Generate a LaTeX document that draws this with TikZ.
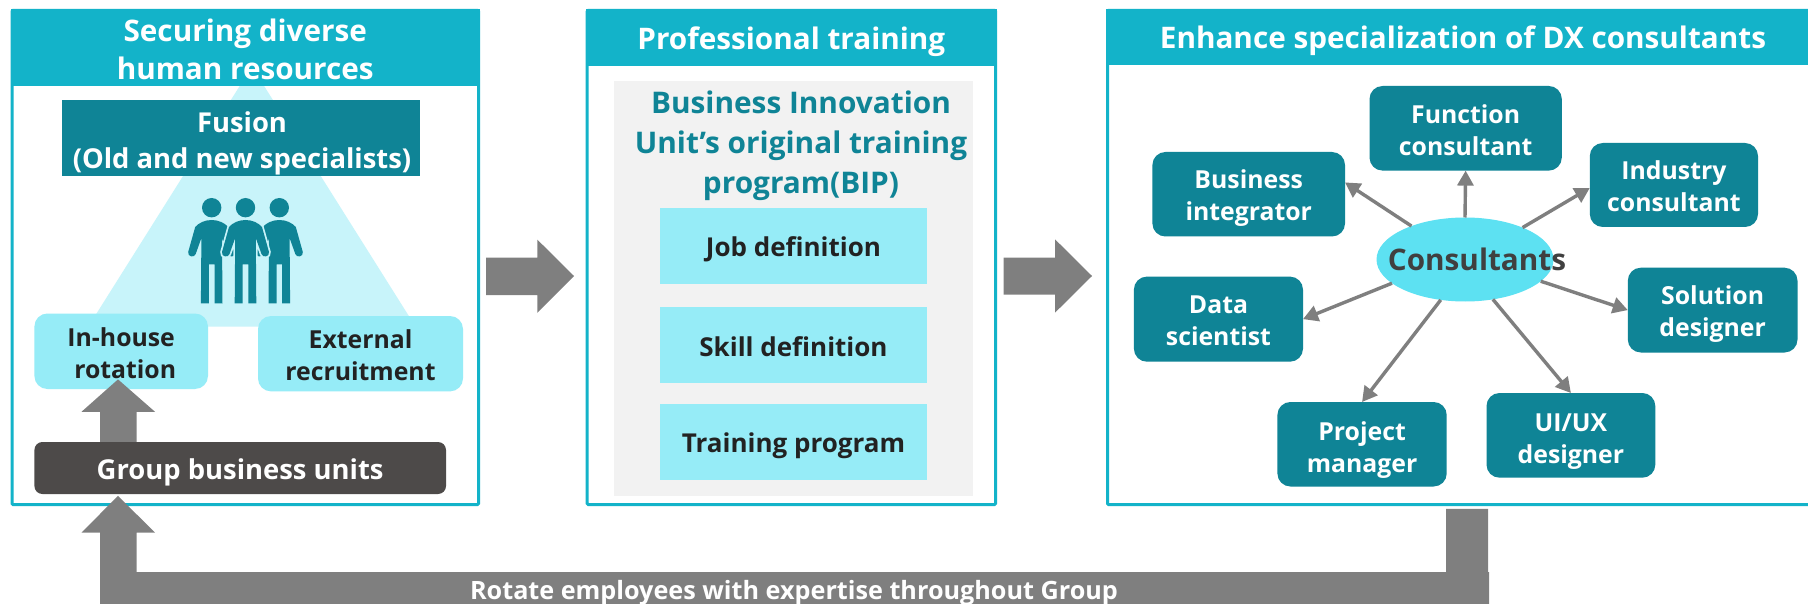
\documentclass[tikz,border=0pt]{standalone}
\usepackage{fontspec}
\setmainfont{Open Sans}
\usetikzlibrary{shapes.geometric,arrows.meta}
\definecolor{cyanhead}{HTML}{13B3C9}
\definecolor{tealdark}{HTML}{0F8496}
\definecolor{palecyan}{HTML}{96ECF7}
\definecolor{tripale}{HTML}{C8F4FA}
\definecolor{ellcyan}{HTML}{5DE1F2}
\definecolor{darkbar}{HTML}{4D4A49}
\definecolor{lightgrey}{HTML}{F2F2F2}
\definecolor{arrowgrey}{HTML}{7F7F7F}
\definecolor{inktext}{HTML}{222222}
\newcommand{\headfont}{\fontsize{29.7}{38.5}\selectfont\bfseries}
\newcommand{\bipfont}{\fontsize{29.8}{40}\selectfont\bfseries}
\newcommand{\bodyfont}{\fontsize{24.8}{32}\selectfont\bfseries}
\newcommand{\stepfont}{\fontsize{26}{32}\selectfont\bfseries}
\newcommand{\fusefont}{\fontsize{27.4}{36}\selectfont\bfseries}
% [text style], name, shape style, x1, y1, x2, y2, text
\newcommand{\boxnode}[8][]{%
  \node[#3,inner sep=0pt,outer sep=0pt,
    minimum width={(#6-#4)*1pt},minimum height={(#7-#5)*1pt}]
    (#2) at ({(#4+#6)/2},{(#5+#7)/2}) {};
  \node[inner sep=0pt,align=center,yshift=-3.5pt,#1] (#2text) at (#2.center) {#8};}
\newcommand{\person}[1]{%
  \begin{scope}[shift={(#1,0)}]
  \path[personbody] (-10.8,303.3) -- (-2.8,303.3) -- (-2.8,264.3) -- (2.8,264.3) -- (2.8,303.3) -- (10.8,303.3)
    -- (10.3,238) -- (16,254) .. controls (17,258) and (24.5,257) .. (23.5,252)
    -- (16.5,227) .. controls (13,223) and (7,220) .. (0,220)
    .. controls (-7,220) and (-13,223) .. (-16.5,227)
    -- (-23.5,252) .. controls (-24.5,257) and (-17,258) .. (-16,254)
    -- (-10.3,238) -- cycle;
  \fill[tealdark] (0,207.7) circle[radius=9.7];
  \end{scope}}
\tikzset{
  panelbody/.style={draw=cyanhead,line width=3pt,fill=white,rounded corners=1pt},
  headbar/.style={fill=cyanhead},
  headtext/.style={text=white,font=\headfont},
  skillbox/.style={fill=tealdark,rounded corners=13pt},
  skilltext/.style={text=white,font=\bodyfont},
  palebox/.style={fill=palecyan,rounded corners=13pt},
  paletext/.style={text=inktext,font=\bodyfont},
  stepbar/.style={fill=palecyan},
  steptext/.style={text=inktext,font=\stepfont},
  fatarrow/.style={fill=arrowgrey},
  spoke/.style={draw=arrowgrey,line width=3.4pt,-{Triangle[length=15pt,width=16pt]}},
  personbody/.style={fill=tealdark},
}
\begin{document}
\begin{tikzpicture}[x=1pt,y=-1pt]
\useasboundingbox (0,0) rectangle (1808,604);
% panel 1
\boxnode{panelA}{panelbody}{12}{10.5}{478.5}{504.5}{}
\fill[tripale] (251.9,66.6) -- (415.5,326.6) -- (88.3,326.6) -- cycle;
\boxnode[headtext,yshift=2pt]{headA}{headbar}{10.5}{9}{480}{86.3}{Securing diverse\\human resources}
\boxnode[text=white,font=\fusefont,xshift=1pt,yshift=-1.5pt]{fusion}{fill=tealdark}{62}{100}{420}{176}{Fusion\\(Old and new specialists)}
\person{211.7}
\person{279.3}
\begin{scope}[personbody/.style={fill=tealdark,preaction={draw=tripale,line width=3.5pt}}]
\person{245.5}
\end{scope}
\boxnode[paletext,yshift=2pt]{inhouse}{palebox}{34.4}{313.5}{208}{389}{In-house\\\hspace*{8pt}rotation}
\boxnode[paletext,yshift=2pt]{external}{palebox}{258}{316}{463}{391.4}{External\\recruitment}
\fill[fatarrow] (118,379.4) -- (155,411.8) -- (136.6,411.8) -- (136.6,443) -- (100,443) -- (100,411.8) -- (81.5,411.8) -- cycle;
\boxnode[text=white,font=\fusefont,yshift=-1pt]{group}{fill=darkbar,rounded corners=8pt}{34.4}{442}{446}{494}{Group business units}
% arrow 1
\fill[fatarrow] (486,257.7) -- (537.3,257.7) -- (537.3,239.6) -- (574,276) -- (537.3,312.8) -- (537.3,295) -- (486,295) -- cycle;
% panel 2
\boxnode{panelB}{panelbody}{587.2}{10.5}{995.5}{504.5}{}
\boxnode[headtext,yshift=-1pt]{headB}{headbar}{585.7}{9}{997}{65.7}{Professional training}
\boxnode{bipback}{fill=lightgrey}{614}{81}{973}{495.7}{}
\node[text=tealdark,font=\bipfont,align=center,inner sep=0pt] (biptitle) at (801,146) {Business Innovation\\Unit’s original training\\program(BIP)};
\boxnode[steptext]{jobdef}{stepbar}{660}{208}{927}{284}{Job definition}
\boxnode[steptext,yshift=2pt]{skilldef}{stepbar}{660}{307}{927}{382.7}{Skill definition}
\boxnode[steptext]{trainprog}{stepbar}{660}{404}{927}{480}{Training program}
% arrow 2
\fill[fatarrow] (1003.6,257.7) -- (1055,257.7) -- (1055,239.3) -- (1092,276) -- (1055,312.7) -- (1055,294.7) -- (1003.6,294.7) -- cycle;
% panel 3
\boxnode{panelC}{panelbody}{1107.5}{10.5}{1830}{504.5}{}
\boxnode{headC}{headbar}{1106}{9}{1808}{65.5}{}
\node[headtext,inner sep=0pt] (headCtext) at (1463,40.8) {Enhance specialization of DX consultants};
\boxnode[skilltext,yshift=2pt]{func}{skillbox}{1369.5}{86}{1561.8}{170.6}{Function\\consultant}
\boxnode[skilltext,yshift=2pt]{indus}{skillbox}{1589.8}{143}{1758}{227}{Industry\\consultant}
\boxnode[skilltext]{biz}{skillbox}{1152.4}{152}{1345}{236.5}{Business\\integrator}
\boxnode[skilltext]{sol}{skillbox}{1627.8}{267.7}{1797.5}{352.5}{Solution\\designer}
\boxnode[skilltext,yshift=2pt]{data}{skillbox}{1133.9}{276.6}{1303}{361.7}{Data\\scientist}
\boxnode[skilltext,yshift=-2pt]{proj}{skillbox}{1277.4}{402}{1446.7}{486.5}{Project\\manager}
\boxnode[skilltext,yshift=-2.5pt]{uiux}{skillbox}{1486.5}{393}{1655.3}{477.7}{UI/UX\\designer}
\node[ellipse,fill=ellcyan,inner sep=0pt,outer sep=0pt,minimum width=177pt,minimum height=84pt] (cons) at (1465,259.5) {};
\node[text=black!75,font=\fontsize{29.7}{34}\selectfont\bfseries,inner sep=0pt] (constext) at (1477,259) {Consultants};
\draw[spoke] (cons.148) -- (biz.7);
\draw[spoke] (cons.north) -- (func.south);
\draw[spoke] (cons.29) -- (indus.182.6);
\draw[spoke] (cons.-16.4) -- (sol.west);
\draw[spoke] (cons.-55) -- (uiux.north);
\draw[spoke] (cons.-121.6) -- (proj.north);
\draw[spoke] (cons.198.9) -- (data.east);
% bottom return arrow
\fill[fatarrow] (118,495.8) -- (155,532.7) -- (136.6,532.7) -- (136.6,572) -- (1446,572) -- (1446,508.9) -- (1488,508.9) -- (1488,572) -- (1489,572) -- (1489,604) -- (100,604) -- (100,532.7) -- (81.5,532.7) -- cycle;
\node[text=white,font=\fontsize{25.2}{30}\selectfont\bfseries,inner sep=0pt] (rotatelabel) at (794,593) {Rotate employees with expertise throughout Group};
\end{tikzpicture}
\end{document}
